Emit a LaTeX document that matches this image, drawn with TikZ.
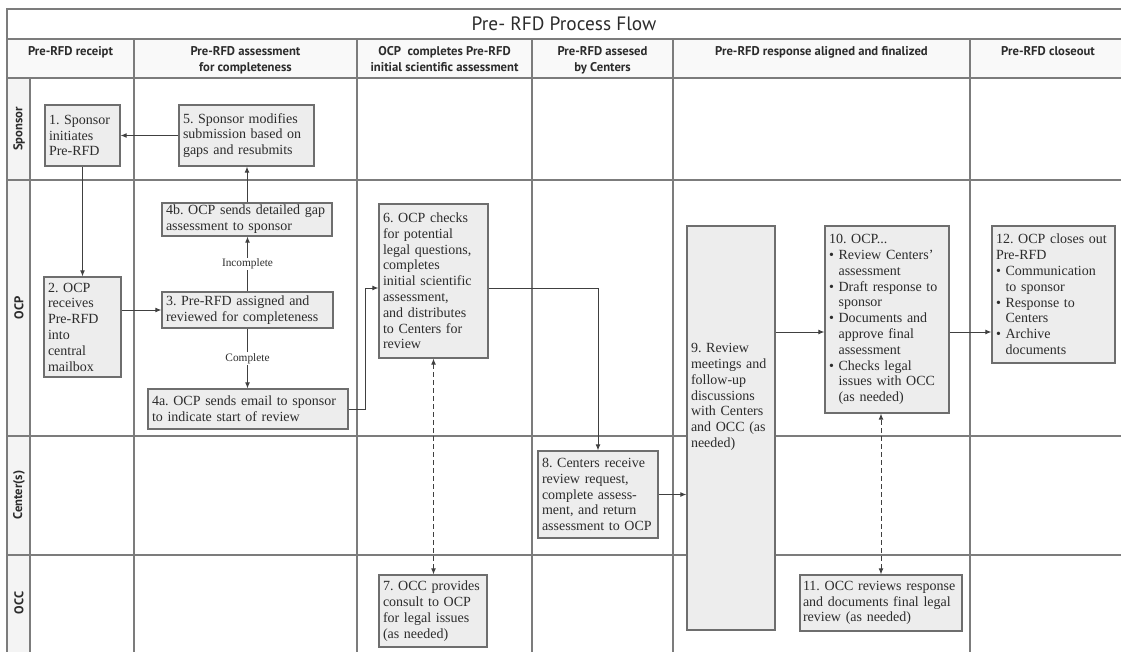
\documentclass[tikz,border=0pt]{standalone}
\usepackage{fontspec}
\setmainfont{Liberation Serif}
\newfontfamily\hdfont{PT Sans}
\usetikzlibrary{shapes,arrows,arrows.meta}
\usetikzlibrary{calc}
\setlength{\parindent}{0pt}
\frenchspacing
\hyphenpenalty=10000
\exhyphenpenalty=10000

\definecolor{boxfill}{HTML}{EDEDED}
\definecolor{boxline}{HTML}{6E6E6E}
\definecolor{gridline}{HTML}{7C7C7C}
\definecolor{txt}{HTML}{2C2C2C}
\newcommand{\bul}{\textbullet\ }
\newcommand{\ind}{\phantom{\textbullet\ }}

\begin{document}
\begin{tikzpicture}[x=0.75pt,y=-0.75pt,>={Latex[length=4.5pt,width=3.6pt]},
	box/.style={draw=boxline,fill=boxfill,line width=0.9pt,align=left,inner sep=0pt,text=txt,font=\fontsize{10.5}{11.85}\selectfont},
	grid/.style={draw=gridline,line width=0.9pt},
	flow/.style={->,draw=black!75,line width=0.7pt},
	legal/.style={<->,draw=black!75,line width=0.7pt,dash pattern=on 3.5pt off 2.5pt},
	lbl/.style={fill=white,inner sep=1pt,text=txt,font=\fontsize{8.5}{10}\selectfont},
	head/.style={font=\hdfont\bfseries\fontsize{9.5}{12.5}\selectfont,text=txt,align=center,anchor=north,inner sep=0pt},
	lane/.style={font=\hdfont\bfseries\fontsize{9.5}{11}\selectfont,text=txt,rotate=90}]
	\useasboundingbox (0,0) rectangle (1121,652);
	\fill[gray!5] (7,39) rectangle (1121,78);
	\fill[gray!9] (7,78) rectangle (30,652);
	\draw[grid] (7,652) -- (7,9) -- (1121,9) (7,39) -- (1121,39) (7,78) -- (1121,78);
	\draw[grid] (7,180) -- (1121,180) (7,436) -- (1121,436) (7,555) -- (1121,555) (30,78) -- (30,652);
	\foreach \x in {134,357,532,673,970}
		\draw[grid] (\x,39) -- (\x,652);

	\node[font=\hdfont\fontsize{14.5}{16}\selectfont,text=txt] (title) at (564,24) {Pre- RFD Process Flow};
	\node[head] (h1) at (70.5,46) {Pre-RFD receipt};
	\node[head] (h2) at (245.5,46) {Pre-RFD assessment\\for completeness};
	\node[head] (h3) at (444.5,46) {OCP\ \ completes Pre-RFD\\initial scientific assessment};
	\node[head] (h4) at (602.5,46) {Pre-RFD assesed\\by Centers};
	\node[head] (h5) at (821.5,46) {Pre-RFD response aligned and finalized};
	\node[head] (h6) at (1048,46) {Pre-RFD closeout};

	\node[lane] (lsp) at (19,129) {Sponsor};
	\node[lane] (locp) at (19,308) {OCP};
	\node[lane] (lctr) at (19,495) {Center(s)};
	\node[lane] (locc) at (19,603) {OCC};

	\node[box,minimum width=56.25pt,minimum height=45.75pt,text width=50.25pt] (n1) at (82.5,135.5) {1. Sponsor\\initiates\\Pre-RFD};
	\node[box,minimum width=101.25pt,minimum height=45.75pt,text width=95.25pt] (n5) at (246.5,135.5) {5. Sponsor modifies\\submission based on\\gaps and resubmits};
	\node[box,minimum width=57.75pt,minimum height=75pt,text width=51.75pt] (n2) at (82.5,327) {2. OCP\\receives\\Pre-RFD\\into\\central\\mailbox};
	\node[box,minimum width=127.5pt,minimum height=24.75pt,text width=121.5pt] (n4b) at (247,219.5) {4b. OCP sends detailed gap\\assessment to sponsor};
	\node[box,minimum width=128.25pt,minimum height=27pt,text width=122.25pt] (n3) at (247.5,310) {3. Pre-RFD assigned and\\reviewed for completeness};
	\node[box,minimum width=150pt,minimum height=30pt,text width=144pt] (n4a) at (248,409) {4a. OCP sends email to sponsor\\to indicate start of review};
	\node[box,minimum width=81.75pt,minimum height=115.5pt,text width=75.75pt] (n6) at (433.5,281) {6. OCP checks\\for potential\\legal questions,\\completes\\initial scientific\\assessment,\\and distributes\\to Centers for\\review};
	\node[box,minimum width=81pt,minimum height=54pt,text width=75pt] (n7) at (433,611) {7. OCC provides\\consult to OCP\\for legal issues\\(as needed)};
	\node[box,minimum width=90pt,minimum height=65.25pt,text width=84pt] (n8) at (598,494.5) {8. Centers receive\\review request,\\complete assess-\\ment, and return\\assessment to OCP};
	\node[box,minimum width=66pt,text width=60pt] (n9) at (731,428) {\parbox[c][303pt][t]{60pt}{\vspace*{88pt}9. Review\\meetings and\\follow-up\\discussions\\with Centers\\and OCC (as\\needed)}};
	\node[box,minimum width=93pt,minimum height=140.25pt,text width=87pt] (n10) at (887,319.5) {10. OCP...\\\bul Review Centers'\\\ind assessment\\\bul Draft response to\\\ind sponsor\\\bul Documents and\\\ind approve final\\\ind assessment\\\bul Checks legal\\\ind issues with OCC\\\ind (as needed)};
	\node[box,minimum width=121.5pt,minimum height=42pt,text width=117pt] (n11) at (881,603) {11. OCC reviews response\\and documents final legal\\review (as needed)};
	\node[box,minimum width=92.25pt,minimum height=102.75pt,text width=86.25pt] (n12) at (1053.5,294.5) {12. OCP closes out\\Pre-RFD\\\bul Communication\\\ind to sponsor\\\bul Response to\\\ind Centers\\\bul Archive\\\ind documents};

	\draw[flow] (n5) -- (n1);
	\draw[flow] (n1) -- (n2);
	\draw[flow] (n2.east |- n3) -- (n3);
	\draw[flow] (n3.north) -- node[lbl] {Incomplete} (n3.north |- n4b.south);
	\draw[flow] (n3.south) -- node[lbl] {Complete} (n3.south |- n4a.north);
	\draw[flow] (n4b.north) -- (n4b.north |- n5.south);
	\draw[flow] (n4a.east) -- ++(17,0) |- ($(n6.west)+(0,7)$);
	\draw[flow] ($(n6.east)+(0,7)$) -| (n8.north);
	\draw[legal] (n6.south) -- (n6.south |- n7.north);
	\draw[flow] (n8.east) -- (n8.east -| n9.west);
	\coordinate (j10) at ($(n10.west)+(0,12.5)$);
	\coordinate (j12) at ($(n10.east)+(0,12.5)$);
	\draw[flow] (n9.east |- j10) -- (j10);
	\draw[flow] (j12) -- (j12 -| n12.west);
	\draw[legal] (n11.north) -- (n11.north |- n10.south);
\end{tikzpicture}
\end{document}
